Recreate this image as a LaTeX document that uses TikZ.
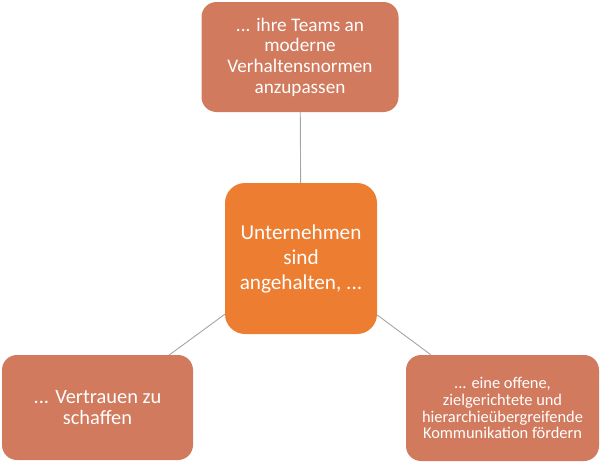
\documentclass[tikz,border=0pt]{standalone}
\usepackage{fontspec}
\setmainfont{Carlito}
\definecolor{outerbox}{RGB}{209,122,93}
\definecolor{centerbox}{RGB}{237,125,49}
\definecolor{linkgray}{RGB}{165,165,165}
\begin{document}
\begin{tikzpicture}[x=1pt,y=-1pt,
  outer/.style={draw=none,fill=outerbox,rounded corners=15pt,text=white,align=center,inner sep=0pt},
  core/.style={draw=none,fill=centerbox,rounded corners=20pt,text=white,align=center,inner sep=0pt},
  link/.style={draw=linkgray,line width=0.9pt}]
\useasboundingbox (0,0) rectangle (600,463);
\node[outer,minimum width=197pt,minimum height=110pt,font=\fontsize{19.2}{20.7}\selectfont] (top) at (300,57)
  {... ihre Teams an\\moderne\\Verhaltensnormen\\anzupassen};
\node[core,minimum width=152pt,minimum height=151pt,font=\fontsize{21.2}{25}\selectfont] (c) at (301,258.5)
  {Unternehmen\\sind\\angehalten, ...};
\node[outer,minimum width=191pt,minimum height=105pt,font=\fontsize{20.4}{21.5}\selectfont] (bl) at (97.5,407.5)
  {... Vertrauen zu\\schaffen};
\node[outer,minimum width=193pt,minimum height=106pt,font=\fontsize{16.4}{16.8}\selectfont] (br) at (502.5,408)
  {... eine offene,\\zielgerichtete und\\hierarchieübergreifende\\Kommunikation fördern};
\draw[link] (top) -- (c);
\draw[link] (bl) -- (c);
\draw[link] (br) -- (c);
\end{tikzpicture}
\end{document}
